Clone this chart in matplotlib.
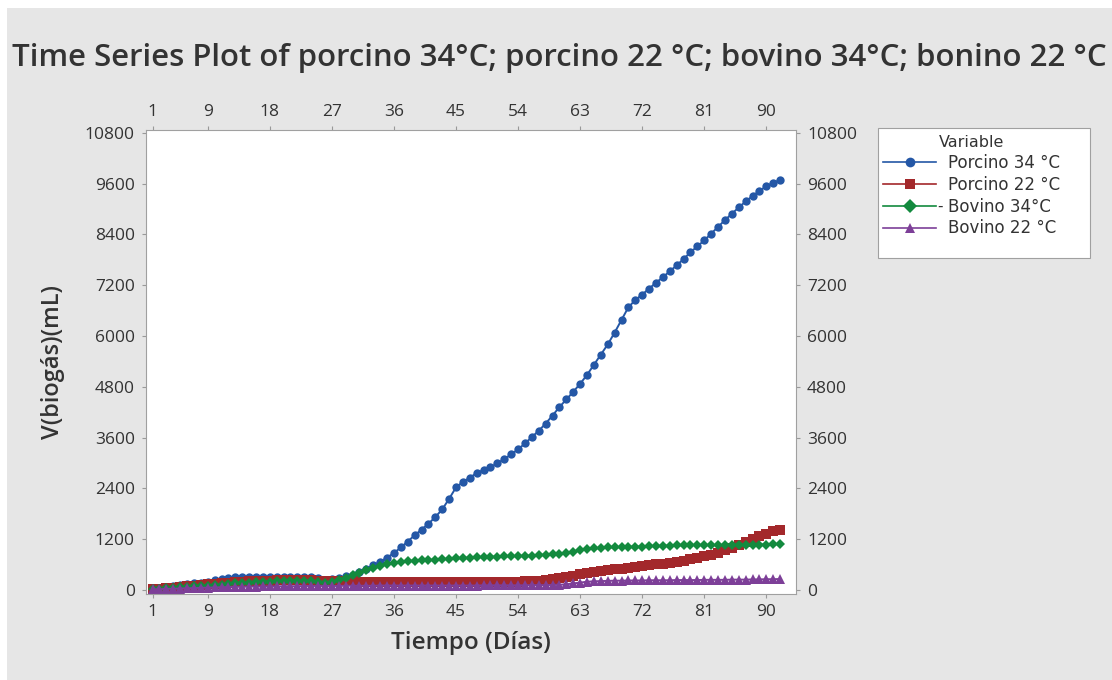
import numpy as np
import matplotlib.pyplot as plt
from matplotlib.patches import Rectangle
from matplotlib.lines import Line2D

plt.rcParams['font.family'] = ['Open Sans', 'DejaVu Sans']

# day index 1..92
dias = np.arange(1, 93)

porcino_34 = [30, 50, 70, 90, 110, 130, 150, 170, 190, 220,
              260, 290, 310, 310, 310, 310, 310, 310, 310, 305,
              305, 300, 300, 295, 280, 240, 260, 290, 320, 360,
              420, 500, 580, 660, 760, 870, 1000, 1140, 1290, 1420,
              1560, 1720, 1900, 2150, 2420, 2550, 2650, 2760, 2830, 2900,
              2990, 3090, 3200, 3320, 3460, 3610, 3760, 3930, 4120, 4320,
              4500, 4680, 4870, 5080, 5320, 5560, 5800, 6080, 6380, 6680,
              6850, 6980, 7120, 7260, 7390, 7530, 7670, 7820, 7980, 8120,
              8260, 8420, 8580, 8740, 8890, 9040, 9180, 9310, 9430, 9540,
              9620, 9690]

porcino_22 = [10, 20, 35, 50, 65, 80, 95, 110, 125, 140,
              155, 170, 185, 195, 200, 205, 210, 215, 220, 220,
              220, 220, 220, 220, 215, 210, 205, 200, 200, 200,
              195, 195, 195, 195, 190, 190, 190, 190, 190, 190,
              190, 190, 190, 190, 190, 190, 190, 190, 190, 190,
              190, 190, 195, 195, 200, 205, 215, 230, 250, 270,
              300, 330, 370, 400, 420, 440, 460, 480, 500, 520,
              540, 560, 580, 600, 620, 640, 660, 690, 720, 750,
              790, 830, 880, 930, 990, 1060, 1130, 1200, 1260, 1320,
              1380, 1420]

bovino_34 = [20, 30, 40, 50, 60, 70, 80, 90, 100, 110,
             120, 135, 150, 160, 170, 180, 190, 195, 200, 200,
             200, 200, 200, 200, 180, 170, 190, 230, 280, 340,
             400, 460, 520, 570, 610, 640, 660, 680, 690, 700,
             705, 710, 720, 730, 740, 750, 760, 770, 775, 780,
             785, 790, 795, 800, 805, 810, 820, 830, 840, 850,
             870, 900, 930, 960, 980, 990, 1000, 1005, 1010, 1015,
             1020, 1020, 1030, 1035, 1040, 1045, 1050, 1055, 1060, 1060,
             1060, 1060, 1060, 1060, 1060, 1060, 1065, 1065, 1070, 1070,
             1075, 1080]

bovino_22 = [10, 15, 20, 25, 30, 35, 40, 45, 50, 55,
             60, 65, 70, 70, 75, 75, 80, 80, 80, 85,
             85, 85, 90, 90, 90, 90, 90, 90, 95, 95,
             95, 95, 95, 100, 100, 100, 100, 100, 100, 100,
             100, 100, 100, 100, 100, 100, 100, 100, 105, 105,
             105, 105, 105, 105, 105, 110, 110, 110, 115, 120,
             130, 150, 170, 190, 200, 205, 210, 215, 215, 220,
             220, 220, 225, 225, 225, 225, 230, 230, 230, 230,
             235, 235, 235, 235, 240, 240, 240, 245, 245, 250,
             250, 255]

series = [
    ('Porcino 34 °C', porcino_34, '#2457a6', 'o'),
    ('Porcino 22 °C', porcino_22, '#a3282b', 's'),
    ('Bovino 34°C', bovino_34, '#138a3e', 'D'),
    ('Bovino 22 °C', bovino_22, '#7d3f98', '^'),
]

x_ticks = [1, 9, 18, 27, 36, 45, 54, 63, 72, 81, 90]
y_ticks = [0, 1200, 2400, 3600, 4800, 6000, 7200, 8400, 9600, 10800]

fig = plt.figure(figsize=(11.12, 6.80), dpi=100, facecolor='white')
# gray panel with thin white strip at top and left
fig.patches.append(Rectangle((7 / 1112, 0), 1, 1 - 8 / 680, transform=fig.transFigure,
                             facecolor='#e6e6e6', edgecolor='none', zorder=-10))
# legend box, drawn by hand so it can keep the loose bottom margin
fig.patches.append(Rectangle((878 / 1112, 1 - 258 / 680), 212 / 1112, 130 / 680,
                             transform=fig.transFigure, facecolor='white',
                             edgecolor='#a0a0a0', linewidth=0.8, zorder=1))

ax = fig.add_axes([146 / 1112, 1 - 594 / 680, (796 - 146) / 1112, (594 - 130) / 680])
ax.set_facecolor('white')

sizes = {'o': 6, 's': 6.5, 'D': 5.5, '^': 6.5}
for label, vals, col, mk in series:
    ax.plot(dias, vals, color=col, marker=mk, markersize=sizes[mk], linewidth=1.4,
            markeredgewidth=0, label=label)

ax.set_xlim(0.05, 94.3)
ax.set_ylim(-100, 10870)
ax.set_xticks(x_ticks)
ax.set_yticks(y_ticks)
ax.tick_params(axis='both', which='both', direction='out', length=3, width=0.8,
               color='#999999', labelcolor='#333333', labelsize=12.5,
               top=True, labeltop=True, right=True, labelright=True)
ax.tick_params(axis='x', pad=4)
ax.tick_params(axis='y', pad=5)
for sp in ax.spines.values():
    sp.set_color('#a0a0a0')
    sp.set_linewidth(0.8)

ax.set_xlabel('Tiempo (Días)', fontsize=17.5, color='#333333', fontweight='semibold', labelpad=8)
ax.set_ylabel('V(biogás)(mL)', fontsize=17, color='#333333', fontweight='semibold', labelpad=14)

fig.text(559 / 1112, 1 - 58 / 680,
         'Time Series Plot of porcino 34°C; porcino 22 °C; bovino 34°C; bonino 22 °C',
         ha='center', va='center', fontsize=22.4, color='#333333', fontweight='semibold')

handles = [Line2D([], [], color=c, marker=m, markersize=7, linewidth=1.2, markeredgewidth=0)
           for _, _, c, m in series]
leg = fig.legend(handles, [s[0] for s in series], loc='upper left',
                 bbox_to_anchor=(878 / 1112, 1 - 130 / 680), title='Variable',
                 prop={'family': 'DejaVu Sans', 'size': 12},
                 title_fontproperties={'family': 'DejaVu Sans', 'size': 11.5},
                 frameon=False, handlelength=3.2, handletextpad=0.7, labelspacing=0.23,
                 borderpad=0.3, borderaxespad=0)
for t in leg.get_texts():
    t.set_color('#333333')
leg.get_title().set_color('#333333')
fig.text(940 / 1112, 1 - 206 / 680, '-', ha='center', va='center', fontsize=11,
         family='DejaVu Sans', color='#333333', zorder=10)

fig.savefig('out.png', dpi=100, facecolor=fig.get_facecolor())
